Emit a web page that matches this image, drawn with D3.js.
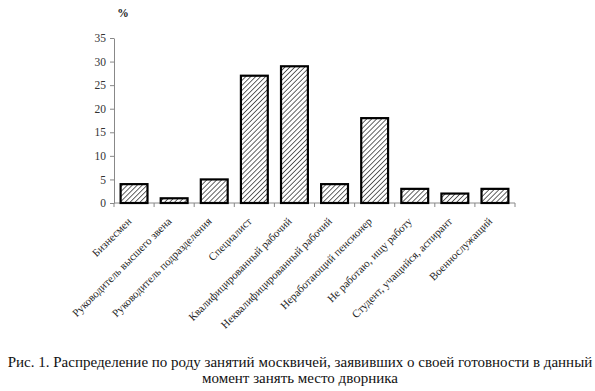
<!DOCTYPE html>
<html><head><meta charset="utf-8">
<script src="https://cdn.jsdelivr.net/npm/d3@7"></script>
<style>body{margin:0;background:#fff}svg{display:block}</style>
</head><body>
<svg id="c" width="595" height="391"></svg>
<script>
const categories = ["Бизнесмен","Руководитель высшего звена","Руководитель подразделения","Специалист","Квалифицированный рабочий","Неквалифицированный рабочий","Неработающий пенсионер","Не работаю, ищу работу","Студент, учащийся, аспирант","Военнослужащий"];
const values = [4,1,5,27,29,4,18,3,2,3];
const yTicks = [0,5,10,15,20,25,30,35];
const unitLabel = "%";
const captionLines = ["Рис. 1. Распределение по роду занятий москвичей, заявивших о своей готовности в данный","момент занять место дворника"];

const svg = d3.select("#c");
const font = "'Liberation Serif','Times New Roman',serif";
const x = d3.scaleBand().domain(categories).range([114,515]).paddingInner(0.33).paddingOuter(0.165);
const y = d3.scaleLinear().domain([0,35]).range([203,38]);

const defs = svg.append("defs");
const pat = defs.append("pattern").attr("id","hatch").attr("patternUnits","userSpaceOnUse")
  .attr("width",3.5).attr("height",3.5).attr("patternTransform","rotate(45)");
pat.append("rect").attr("width",3.5).attr("height",3.5).attr("fill","#fff");
pat.append("line").attr("x1",0).attr("y1",0).attr("x2",0).attr("y2",3.5).attr("stroke","#222").attr("stroke-width",1.4);

// y axis
const ya = svg.append("g").attr("transform","translate(114,0)")
  .call(d3.axisLeft(y).tickValues(yTicks).tickSize(4).tickSizeOuter(0));
ya.select(".domain").attr("stroke","#888");
ya.selectAll(".tick line").attr("stroke","#888");
ya.selectAll(".tick text").attr("font-family",font).attr("font-size",11.5).attr("fill","#333").attr("x",-8);

// x axis baseline with ticks at band boundaries
const xg = svg.append("g");
xg.append("line").attr("x1",114).attr("x2",515).attr("y1",y(0)).attr("y2",y(0)).attr("stroke","#888");
const bounds = categories.map(c => x(c) - x.step()*x.paddingInner()/2);
bounds.push(515);
xg.selectAll("line.t").data(bounds).join("line").attr("class","t")
  .attr("x1",d=>d).attr("x2",d=>d).attr("y1",y(0)).attr("y2",y(0)+4).attr("stroke","#888");

// bars
svg.append("g").selectAll("rect").data(values).join("rect")
  .attr("x",(d,i)=>x(categories[i])).attr("width",x.bandwidth())
  .attr("y",d=>y(d)).attr("height",d=>y(0)-y(d))
  .attr("fill","url(#hatch)").attr("stroke","#000").attr("stroke-width",2.2);

// category labels
svg.append("g").selectAll("text").data(categories).join("text")
  .attr("transform",d=>`translate(${x(d)+x.bandwidth()/2-2},${y(0)+19}) rotate(-45)`)
  .attr("text-anchor","end").attr("font-family",font).attr("font-size",11).attr("fill","#222")
  .text(d=>d);

svg.append("text").attr("x",123).attr("y",17).attr("text-anchor","middle")
  .attr("font-family",font).attr("font-size",11.5).attr("font-weight","bold").attr("fill","#222").text(unitLabel);

svg.append("g").selectAll("text").data(captionLines).join("text")
  .attr("x",300).attr("y",(d,i)=>367+i*16).attr("text-anchor","middle")
  .attr("font-family",font).attr("font-size",15).attr("fill","#111").text(d=>d);
</script>
</body></html>
